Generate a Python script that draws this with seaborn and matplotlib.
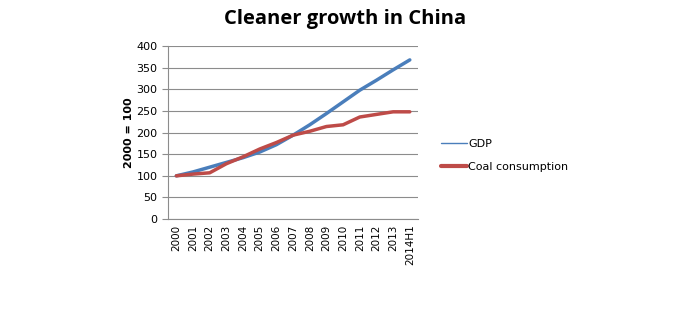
import matplotlib
matplotlib.use("Agg")
import matplotlib.pyplot as plt
from matplotlib.lines import Line2D
import seaborn as sns
import pandas as pd

categories = ["2000", "2001", "2002", "2003", "2004", "2005", "2006", "2007",
              "2008", "2009", "2010", "2011", "2012", "2013", "2014H1"]
gdp = [100, 109, 120, 131, 142, 155, 172, 194, 218, 244, 271, 298, 321, 345, 368]
coal = [100, 104, 107, 128, 144, 162, 177, 194, 203, 214, 218, 236, 242, 248, 248]
series_names = ["GDP", "Coal consumption"]
colors = ["#4A7EBB", "#BE4B48"]

df = pd.concat([
    pd.DataFrame({"pos": range(len(categories)), "value": gdp, "series": series_names[0]}),
    pd.DataFrame({"pos": range(len(categories)), "value": coal, "series": series_names[1]}),
])

sns.set_style("white")
plt.rcParams["font.family"] = ["DejaVu Sans"]

fig = plt.figure(figsize=(6.9, 3.35), dpi=100)
ax = fig.add_axes([0.2435, 0.346, 0.3625, 0.5165])

sns.lineplot(data=df, x="pos", y="value", hue="series", palette=colors,
             linewidth=2.5, ax=ax, legend=False)

ax.set_xlim(-0.5, len(categories) - 0.5)
ax.set_ylim(0, 400)
ax.set_yticks(range(0, 401, 50))
ax.yaxis.grid(True, color="#8C8C8C", linewidth=0.8)
ax.set_axisbelow(True)
ax.set_xticks(range(len(categories)))
ax.set_xticklabels(categories, rotation=90, fontsize=7.5, color="black")
ax.set_xticks([i - 0.5 for i in range(len(categories) + 1)], minor=True)
ax.tick_params(axis="x", which="major", length=0, pad=4)
ax.tick_params(axis="x", which="minor", length=4, color="#8C8C8C", direction="out")
ax.tick_params(axis="y", length=4, color="#8C8C8C", direction="out", labelsize=8,
               labelcolor="black", left=True)
for s in ["top", "right"]:
    ax.spines[s].set_visible(False)
for s in ["left", "bottom"]:
    ax.spines[s].set_color("#8C8C8C")
    ax.spines[s].set_linewidth(0.8)
ax.set_xlabel("")
ax.set_ylabel("2000 = 100", fontsize=8, fontweight="bold", labelpad=2, color="black")

fig.text(0.5, 0.942, "Cleaner growth in China", ha="center", va="center",
         fontsize=14.5, fontweight="bold", family="Open Sans", color="black")

handles = [Line2D([0], [0], color=colors[0], linewidth=1),
           Line2D([0], [0], color=colors[1], linewidth=3)]
fig.legend(handles, series_names, loc="upper left", bbox_to_anchor=(0.625, 0.614),
           frameon=False, fontsize=8, handlelength=2.3, handletextpad=0.1,
           labelspacing=1.1, labelcolor="black")

fig.savefig("out.png", dpi=100)
